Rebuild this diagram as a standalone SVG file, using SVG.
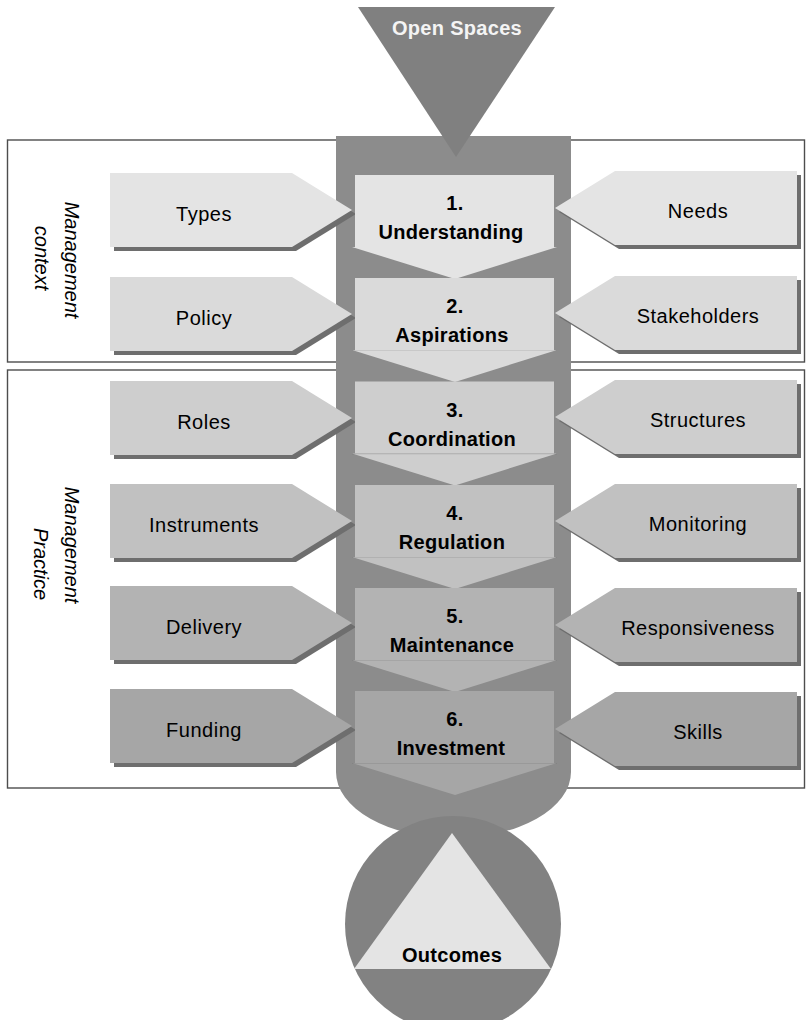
<svg xmlns="http://www.w3.org/2000/svg" width="806" height="1020" viewBox="0 0 806 1020">
  <style>
    text { font-family: "Liberation Sans", Arial, sans-serif; fill: #000; }
    .side { font-size: 20px; letter-spacing: 0.5px; text-anchor: middle; }
    .stage { font-size: 20px; font-weight: bold; letter-spacing: 0.3px; text-anchor: middle; }
    .sect { font-size: 20px; font-style: italic; text-anchor: middle; }
    .frame { fill: none; stroke: #4d4d4d; stroke-width: 1.4; }
    .shadow { fill: #6e6e6e; }
    .seam { stroke: #000; stroke-opacity: 0.08; stroke-width: 1; }
    .r1 { fill: #e4e4e4; } .r2 { fill: #dadada; } .r3 { fill: #cecece; }
    .r4 { fill: #c1c1c1; } .r5 { fill: #b3b3b3; } .r6 { fill: #a6a6a6; }
  </style>
  <defs>
    <!-- arrow shapes drawn at origin, placed by translate -->
    <polygon id="leftArrow" points="0,0 182,0 242,37 182,74 0,74"/>
    <polygon id="rightArrow" points="0,37 60,0 242,0 242,74 60,74"/>
    <g id="stageShape">
      <polygon points="-3,72 202,72 100,104"/>
      <rect x="0" y="0" width="199" height="72"/>
    </g>
  </defs>

  <!-- section frames -->
  <g id="sections">
    <rect class="frame" x="7.5" y="140" width="797" height="222"/>
    <rect class="frame" x="7.5" y="370" width="797" height="418"/>
    <g transform="translate(65,260) rotate(90)"><text class="sect" x="0" y="0">Management</text></g>
    <g transform="translate(35,258) rotate(90)"><text class="sect" x="0" y="0">context</text></g>
    <g transform="translate(65,545) rotate(90)"><text class="sect" x="0" y="0">Management</text></g>
    <g transform="translate(34,564) rotate(90)"><text class="sect" x="0" y="0">Practice</text></g>
  </g>

  <!-- central column -->
  <g id="column">
    <path d="M336,136 H571 V772 A117.5,66 0 0 1 336,772 Z" fill="#8c8c8c"/>
  </g>

  <!-- entry triangle -->
  <g id="open-spaces">
    <polygon points="358,7 555,7 456,157" fill="#808080"/>
    <text class="stage" x="457" y="35" style="fill:#f4f4f4">Open Spaces</text>
  </g>

  <!-- left inputs -->
  <g id="types" transform="translate(110,173)">
    <use href="#leftArrow" class="shadow" x="4" y="4"/>
    <use href="#leftArrow" class="r1"/>
    <text class="side" x="94" y="48">Types</text>
  </g>
  <g id="policy" transform="translate(110,277)">
    <use href="#leftArrow" class="shadow" x="4" y="4"/>
    <use href="#leftArrow" class="r2"/>
    <text class="side" x="94" y="48">Policy</text>
  </g>
  <g id="roles" transform="translate(110,381)">
    <use href="#leftArrow" class="shadow" x="4" y="4"/>
    <use href="#leftArrow" class="r3"/>
    <text class="side" x="94" y="48">Roles</text>
  </g>
  <g id="instruments" transform="translate(110,484)">
    <use href="#leftArrow" class="shadow" x="4" y="4"/>
    <use href="#leftArrow" class="r4"/>
    <text class="side" x="94" y="48">Instruments</text>
  </g>
  <g id="delivery" transform="translate(110,586)">
    <use href="#leftArrow" class="shadow" x="4" y="4"/>
    <use href="#leftArrow" class="r5"/>
    <text class="side" x="94" y="48">Delivery</text>
  </g>
  <g id="funding" transform="translate(110,689)">
    <use href="#leftArrow" class="shadow" x="4" y="4"/>
    <use href="#leftArrow" class="r6"/>
    <text class="side" x="94" y="48">Funding</text>
  </g>

  <!-- right inputs -->
  <g id="needs" transform="translate(555,171)">
    <use href="#rightArrow" class="shadow" x="4" y="4"/>
    <use href="#rightArrow" class="r1"/>
    <text class="side" x="143" y="47">Needs</text>
  </g>
  <g id="stakeholders" transform="translate(555,276)">
    <use href="#rightArrow" class="shadow" x="4" y="4"/>
    <use href="#rightArrow" class="r2"/>
    <text class="side" x="143" y="47">Stakeholders</text>
  </g>
  <g id="structures" transform="translate(555,380)">
    <use href="#rightArrow" class="shadow" x="4" y="4"/>
    <use href="#rightArrow" class="r3"/>
    <text class="side" x="143" y="47">Structures</text>
  </g>
  <g id="monitoring" transform="translate(555,484)">
    <use href="#rightArrow" class="shadow" x="4" y="4"/>
    <use href="#rightArrow" class="r4"/>
    <text class="side" x="143" y="47">Monitoring</text>
  </g>
  <g id="responsiveness" transform="translate(555,588)">
    <use href="#rightArrow" class="shadow" x="4" y="4"/>
    <use href="#rightArrow" class="r5"/>
    <text class="side" x="143" y="47">Responsiveness</text>
  </g>
  <g id="skills" transform="translate(555,692)">
    <use href="#rightArrow" class="shadow" x="4" y="4"/>
    <use href="#rightArrow" class="r6"/>
    <text class="side" x="143" y="47">Skills</text>
  </g>

  <!-- process stages -->
  <g id="stage1" transform="translate(355,175)">
    <use href="#stageShape" class="r1"/>
    <text class="stage" x="100" y="35">1.</text>
    <text class="stage" x="96" y="64">Understanding</text>
  </g>
  <g id="stage2" transform="translate(355,278)">
    <use href="#stageShape" class="r2"/>
    <line class="seam" x1="-3" y1="72.5" x2="202" y2="72.5"/>
    <text class="stage" x="100" y="35">2.</text>
    <text class="stage" x="97" y="64">Aspirations</text>
  </g>
  <g id="stage3" transform="translate(355,381.5)">
    <use href="#stageShape" class="r3"/>
    <line class="seam" x1="-3" y1="72.5" x2="202" y2="72.5"/>
    <text class="stage" x="100" y="35">3.</text>
    <text class="stage" x="97" y="64">Coordination</text>
  </g>
  <g id="stage4" transform="translate(355,485)">
    <use href="#stageShape" class="r4"/>
    <line class="seam" x1="-3" y1="72.5" x2="202" y2="72.5"/>
    <text class="stage" x="100" y="35">4.</text>
    <text class="stage" x="97" y="64">Regulation</text>
  </g>
  <g id="stage5" transform="translate(355,588)">
    <use href="#stageShape" class="r5"/>
    <line class="seam" x1="-3" y1="72.5" x2="202" y2="72.5"/>
    <text class="stage" x="100" y="35">5.</text>
    <text class="stage" x="97" y="64">Maintenance</text>
  </g>
  <g id="stage6" transform="translate(355,691)">
    <use href="#stageShape" class="r6"/>
    <line class="seam" x1="-3" y1="72.5" x2="202" y2="72.5"/>
    <text class="stage" x="100" y="35">6.</text>
    <text class="stage" x="96" y="64">Investment</text>
  </g>

  <!-- result -->
  <g id="outcomes">
    <circle cx="453" cy="924" r="108" fill="#828282"/>
    <polygon points="452,833 354,969 551,969" fill="#e4e4e4"/>
    <text class="stage" x="452" y="962">Outcomes</text>
  </g>
</svg>
